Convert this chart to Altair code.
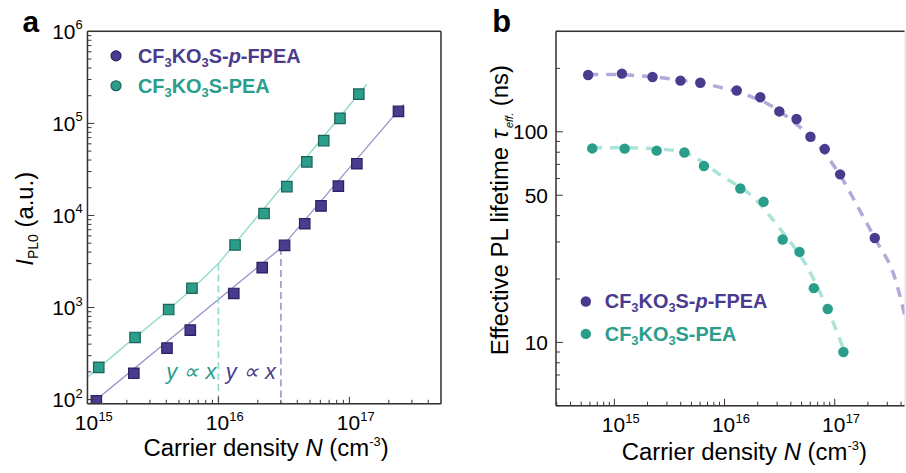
import altair as alt
import pandas as pd

# ---------------- data: panel a (I_PL0 vs carrier density) ----------------
A_PFPEA_N = [1.17e15, 2.26e15, 4.05e15, 6.1e15, 1.31e16, 2.16e16, 3.2e16, 4.56e16, 6.07e16, 8.24e16, 1.14e17, 2.37e17]
A_PFPEA_I = [97, 193, 362, 568, 1420, 2710, 4730, 8130, 12700, 20800, 36500, 135000]
A_PEA_N = [1.22e15, 2.31e15, 4.17e15, 6.28e15, 1.34e16, 2.23e16, 3.33e16, 4.73e16, 6.37e16, 8.47e16, 1.18e17]
A_PEA_I = [224, 473, 951, 1620, 4780, 10500, 20600, 38200, 65000, 113500, 208000]
A_PFPEA_FIT_N = [1.07e15, 3e16, 2.6e17]
A_PFPEA_FIT_I = [90, 4420, 162000]
A_PEA_FIT_N = [1e15, 2e15, 4e15, 6e15, 8e15, 1e16, 1.36e17]
A_PEA_FIT_I = [175, 400, 900, 1500, 2200, 3000, 266000]
A_THRESH_N = [1e16, 3e16]
A_THRESH_I = [3000, 4420]
A_XLAB = [1e15, 1e16, 1e17]
A_XLAB_EXP = ["15", "16", "17"]
A_YLAB = [1e2, 1e3, 1e4, 1e5, 1e6]
A_YLAB_EXP = ["2", "3", "4", "5", "6"]

# ---------------- data: panel b (lifetime vs carrier density) ----------------
B_PFPEA_N = [5.78e14, 1.17e15, 2.22e15, 3.98e15, 6.03e15, 1.29e16, 2.11e16, 3.14e16, 4.5e16, 6.02e16, 8.12e16, 1.12e17, 2.31e17]
B_PFPEA_T = [186, 189, 182, 175, 171, 157, 146, 125, 115, 94.7, 82.8, 62.8, 31.3]
B_PEA_N = [6.3e14, 1.24e15, 2.42e15, 4.32e15, 6.5e15, 1.39e16, 2.26e16, 3.37e16, 4.79e16, 6.46e16, 8.64e16, 1.2e17]
B_PEA_T = [83.4, 83.2, 81.4, 79.8, 68.8, 53.8, 46.5, 30.8, 26.9, 18.1, 14.4, 9.0]
B_PFPEA_FIT_N = [5.8e14, 1e15, 1.8e15, 4e15, 9e15, 1.62e16, 2.45e16, 4e16, 7.33e16, 1.26e17, 1.66e17, 2.31e17, 3.56e17, 4.3e17]
B_PFPEA_FIT_T = [187, 187, 184, 176, 163, 149, 136, 114, 85, 56, 43, 31.3, 19.8, 13.6]
B_PEA_FIT_N = [6.3e14, 1.2e15, 2.4e15, 4.3e15, 5.3e15, 8.9e15, 1.86e16, 3.3e16, 5.47e16, 7.73e16, 1.094e17, 1.2e17]
B_PEA_FIT_T = [84, 84, 83, 80, 76, 63, 48.4, 33.8, 23.4, 16.3, 10.6, 9.3]
B_XLAB = [1e15, 1e16, 1e17]
B_XLAB_EXP = ["15", "16", "17"]
B_YLAB = [10, 50, 100]
B_YLAB_TXT = ["10", "50", "100"]

# tick positions
A_XMAJ = [1e15, 1e16, 1e17]
A_XMIN = [m * 10.0 ** e for e in (15, 16) for m in range(2, 10)] + [2e17, 3e17, 4e17]
A_YMAJ = [1e2, 1e3, 1e4, 1e5]
A_YMIN = [m * 10.0 ** e for e in (2, 3, 4, 5) for m in range(2, 10)]
B_XMAJ = [1e15, 1e16, 1e17]
B_XMIN = [m * 1e14 for m in range(3, 10)] + [m * 10.0 ** e for e in (15, 16) for m in range(2, 10)] + [2e17, 3e17, 4e17]
B_YMAJ = [10, 50, 100]
B_YMIN = [5, 6, 7, 8, 9, 20, 30, 40, 60, 70, 80, 90, 200, 300]

FONT = "Liberation Sans"
PURPLE, TEAL = "#4b3b8e", "#2a9d8b"
PURPLE_EDGE, TEAL_EDGE = "#2b2160", "#1b6358"
PURPLE_LINE, TEAL_LINE = "#9c96c9", "#94dacd"
PURPLE_DASH, TEAL_DASH = "#b0abd9", "#abe3d8"
AX = "#3a3232"

W_A, H_A = 355, 374
W_B, H_B = 350, 376

xa = alt.Scale(type="log", domain=[1e15, 5e17])
ya = alt.Scale(type="log", domain=[90, 1e6])
xb = alt.Scale(type="log", domain=[2.95e14, 4.3e17])
yb = alt.Scale(type="log", domain=[5, 300])

ONE = pd.DataFrame({"k": [0]})

REG = {'C': .722, 'a': .556, 'r': .333, 'i': .222, 'e': .556, ' ': .278, 'd': .556, 'n': .556, 's': .5,
       't': .278, 'y': .5, 'N': .722, '(': .333, 'c': .5, 'm': .833, '-': .333, '3': .556, ')': .333,
       'E': .667, 'f': .278, 'v': .5, 'P': .667, 'L': .556, 'l': .222, 'u': .556, '.': .278, 'I': .278,
       '0': .556, 'τ': .45}
BOLD = {'C': .722, 'F': .611, 'K': .722, 'O': .778, 'S': .667, '-': .333, 'p': .611, 'P': .667,
        'E': .667, 'A': .722, '3': .556}


def tw(s, size, bold=False):
    tbl = BOLD if bold else REG
    return sum(tbl.get(c, .556) for c in s) * size


def rich(segments, x, y, angle=0, color="black"):
    layers = []
    pos = 0.0
    for seg in segments:
        text, size, style, weight, shift = seg
        bold = weight == "bold"
        stripped = text.lstrip(" ")
        pos += tw(text[:len(text) - len(stripped)], size, bold)
        if angle == 0:
            xx, yy = x + pos, y + shift
        else:
            xx, yy = x + shift, y - pos
        layers.append(
            alt.Chart(ONE).mark_text(text=stripped, fontSize=size, fontStyle=style, fontWeight=weight,
                                     align="left", baseline="alphabetic", angle=angle, font=FONT,
                                     color=color)
            .encode(x=alt.value(xx), y=alt.value(yy)))
        pos += tw(stripped, size, bold)
    return layers


def series(n, v):
    return pd.DataFrame({"n": n, "v": v})


def frame(w, h, sides):
    out = []
    if "top" in sides:
        out.append(alt.Chart(ONE).mark_rule(color=AX, strokeWidth=1.5).encode(
            x=alt.value(0), x2=alt.value(w), y=alt.value(0)))
    if "bottom" in sides:
        out.append(alt.Chart(ONE).mark_rule(color=AX, strokeWidth=1.5).encode(
            x=alt.value(0), x2=alt.value(w), y=alt.value(h)))
    if "left" in sides:
        out.append(alt.Chart(ONE).mark_rule(color=AX, strokeWidth=1.5).encode(
            x=alt.value(0), y=alt.value(0), y2=alt.value(h)))
    if "right" in sides:
        out.append(alt.Chart(ONE).mark_rule(color=AX, strokeWidth=1.5).encode(
            x=alt.value(w), y=alt.value(0), y2=alt.value(h)))
    return out


def ticks(xs, ys, xmaj, xmin, ymaj, ymin, h):
    out = []
    for vals, ln in ((xmaj, 7), (xmin, 4)):
        out.append(alt.Chart(pd.DataFrame({"t": vals})).mark_rule(color=AX, strokeWidth=1).encode(
            x=alt.X("t:Q", scale=xs, axis=None), y=alt.value(h), y2=alt.value(h - ln)))
    for vals, ln in ((ymaj, 7), (ymin, 4)):
        out.append(alt.Chart(pd.DataFrame({"t": vals})).mark_rule(color=AX, strokeWidth=1).encode(
            y=alt.Y("t:Q", scale=ys, axis=None), x=alt.value(0), x2=alt.value(ln)))
    return out


def xlabels(xs, vals, exps, h):
    d = pd.DataFrame({"t": vals, "e": exps})
    base = alt.Chart(d).mark_text(text="10", fontSize=21, font=FONT, align="center", baseline="alphabetic",
                                  dx=-1, color="black").encode(
        x=alt.X("t:Q", scale=xs, axis=None), y=alt.value(h + 26))
    ex = alt.Chart(d).mark_text(fontSize=13, font=FONT, align="left", baseline="alphabetic",
                                dx=11, color="black").encode(
        x=alt.X("t:Q", scale=xs, axis=None), y=alt.value(h + 17), text="e:N")
    return [base, ex]


def legend(x_dot, x_txt, y1, y2, stroke):
    out = []
    for y, col, edge, tail in ((y1, PURPLE, PURPLE_EDGE, True), (y2, TEAL, TEAL_EDGE, False)):
        if stroke:
            m = alt.Chart(ONE).mark_point(shape="circle", filled=True, size=100, color=col,
                                          stroke=edge, strokeWidth=1.2, opacity=1)
        else:
            m = alt.Chart(ONE).mark_circle(size=110, color=col, opacity=1)
        out.append(m.encode(x=alt.value(x_dot), y=alt.value(y - 7)))
        segs = [("CF", 20, "normal", "bold", 0), ("3", 13, "normal", "bold", 4),
                ("KO", 20, "normal", "bold", 0), ("3", 13, "normal", "bold", 4)]
        if tail:
            segs += [("S-", 20, "normal", "bold", 0), ("p", 20, "italic", "bold", 0),
                     ("-FPEA", 20, "normal", "bold", 0)]
        else:
            segs += [("S-PEA", 20, "normal", "bold", 0)]
        out += rich(segs, x_txt, y, color=col)
    return out


def xtitle(x0, y0):
    segs = [("Carrier density ", 24, "normal", "normal", 0), ("N", 24, "italic", "normal", 0),
            (" (cm", 24, "normal", "normal", 0), ("-3", 13, "normal", "normal", -10),
            (")", 24, "normal", "normal", 0)]
    return rich(segs, x0, y0)


# ---------------- panel a ----------------
def sq(df, fill, edge):
    return alt.Chart(df).mark_point(shape="square", filled=True, size=110, color=fill, stroke=edge,
                                    strokeWidth=1.2, opacity=1, clip=True).encode(
        x=alt.X("n:Q", scale=xa, axis=None), y=alt.Y("v:Q", scale=ya, axis=None))


def fitline(df, color, xs, ys, width, dash=None, interp="linear"):
    kw = dict(color=color, strokeWidth=width, clip=True, interpolate=interp)
    if dash:
        kw["strokeDash"] = dash
    return alt.Chart(df).mark_line(**kw).encode(
        x=alt.X("n:Q", scale=xs, axis=None), y=alt.Y("v:Q", scale=ys, axis=None), order="n:Q")


thr = pd.DataFrame({"n": A_THRESH_N, "v": A_THRESH_I, "lo": [90, 90]})
thr_layers = []
for i, col in enumerate((TEAL_LINE, PURPLE_LINE)):
    thr_layers.append(alt.Chart(thr.iloc[[i]]).mark_rule(color=col, strokeWidth=1.6, strokeDash=[7, 4]).encode(
        x=alt.X("n:Q", scale=xa, axis=None), y=alt.Y("v:Q", scale=ya, axis=None), y2="lo:Q"))

ann = pd.DataFrame({"n": A_THRESH_N, "v": [167, 167]})
ann_layers = [
    alt.Chart(ann.iloc[[0]]).mark_text(text="y ∝ x", fontSize=22, fontStyle="italic", font=FONT, align="right",
                                       baseline="alphabetic", dx=-2, color=TEAL).encode(
        x=alt.X("n:Q", scale=xa, axis=None), y=alt.Y("v:Q", scale=ya, axis=None)),
    alt.Chart(ann.iloc[[1]]).mark_text(text="y ∝ x", fontSize=22, fontStyle="italic", font=FONT, align="right",
                                       baseline="alphabetic", dx=-5, color=PURPLE).encode(
        x=alt.X("n:Q", scale=xa, axis=None), y=alt.Y("v:Q", scale=ya, axis=None)),
]

ylab_a = pd.DataFrame({"t": A_YLAB, "e": A_YLAB_EXP})
ylab_a_layers = [
    alt.Chart(ylab_a).mark_text(text="10", fontSize=21, font=FONT, align="right", baseline="alphabetic",
                                dy=7.5, color="black").encode(
        y=alt.Y("t:Q", scale=ya, axis=None), x=alt.value(-12)),
    alt.Chart(ylab_a).mark_text(fontSize=13, font=FONT, align="left", baseline="alphabetic",
                                dy=-2, color="black").encode(
        y=alt.Y("t:Q", scale=ya, axis=None), x=alt.value(-12), text="e:N"),
]

ytitle_a = rich([("I", 24, "italic", "normal", 0), ("PL0", 14, "normal", "normal", 5),
                 (" (a.u.)", 24, "normal", "normal", 0)], -54.3, 235.3, angle=270)

label_a = alt.Chart(ONE).mark_text(text="a", fontSize=30, fontWeight="bold", font=FONT, align="left",
                                   baseline="alphabetic", color="black").encode(x=alt.value(-65.3), y=alt.value(0.3))

panel_a = alt.layer(
    fitline(series(A_PEA_FIT_N, A_PEA_FIT_I), TEAL_LINE, xa, ya, 1.4),
    fitline(series(A_PFPEA_FIT_N, A_PFPEA_FIT_I), PURPLE_LINE, xa, ya, 1.4),
    *thr_layers,
    sq(series(A_PEA_N, A_PEA_I), TEAL, TEAL_EDGE),
    sq(series(A_PFPEA_N, A_PFPEA_I), PURPLE, PURPLE_EDGE),
    *ann_layers,
    *ticks(xa, ya, A_XMAJ, A_XMIN, A_YMAJ, A_YMIN, H_A),
    *frame(W_A, H_A, ("top", "bottom", "left", "right")),
    *xlabels(xa, A_XLAB, A_XLAB_EXP, H_A),
    *ylab_a_layers,
    *ytitle_a,
    *xtitle(56.2, H_A + 52.3),
    *legend(28.7, 50.7, 31.6, 61.6, True),
    label_a,
).properties(width=W_A, height=H_A)

# ---------------- panel b ----------------
def dots(df, color):
    return alt.Chart(df).mark_circle(size=110, color=color, opacity=1, clip=True).encode(
        x=alt.X("n:Q", scale=xb, axis=None), y=alt.Y("v:Q", scale=yb, axis=None))


ylab_b = pd.DataFrame({"t": B_YLAB, "s": B_YLAB_TXT})
ylab_b_layer = alt.Chart(ylab_b).mark_text(fontSize=21, font=FONT, align="right", baseline="alphabetic",
                                           dy=7.5, color="black").encode(
    y=alt.Y("t:Q", scale=yb, axis=None), x=alt.value(-8), text="s:N")

ytitle_b = rich([("Effective PL lifetime ", 24, "normal", "normal", 0), ("τ", 24, "italic", "normal", 0),
                 ("eff.", 11, "italic", "normal", 5), (" (ns)", 24, "normal", "normal", 0)],
                -48, 325.3, angle=270)

label_b = alt.Chart(ONE).mark_text(text="b", fontSize=31, fontWeight="bold", font=FONT, align="left",
                                   baseline="alphabetic", color="black").encode(x=alt.value(-64), y=alt.value(0.3))

panel_b = alt.layer(
    fitline(series(B_PFPEA_FIT_N, B_PFPEA_FIT_T), PURPLE_DASH, xb, yb, 3.5, dash=[10, 8], interp="monotone"),
    fitline(series(B_PEA_FIT_N, B_PEA_FIT_T), TEAL_DASH, xb, yb, 3.5, dash=[10, 8], interp="monotone"),
    dots(series(B_PFPEA_N, B_PFPEA_T), PURPLE),
    dots(series(B_PEA_N, B_PEA_T), TEAL),
    *ticks(xb, yb, B_XMAJ, B_XMIN, B_YMAJ, B_YMIN, H_B),
    *frame(W_B, H_B, ("top", "bottom", "left")),
    *xlabels(xb, B_XLAB, B_XLAB_EXP, H_B),
    ylab_b_layer,
    *ytitle_b,
    *xtitle(66, H_B + 54),
    *legend(30, 49, 278.3, 310.8, False),
    label_b,
).properties(width=W_B, height=H_B)

chart = alt.hconcat(panel_a, panel_b, spacing=45.5).properties(
    padding={"left": 13.8, "top": 4.5, "right": 0, "bottom": 0}
).configure_view(stroke=None).configure(background="white")

chart.save("out.html", embed_options={"renderer": "svg", "actions": False})
